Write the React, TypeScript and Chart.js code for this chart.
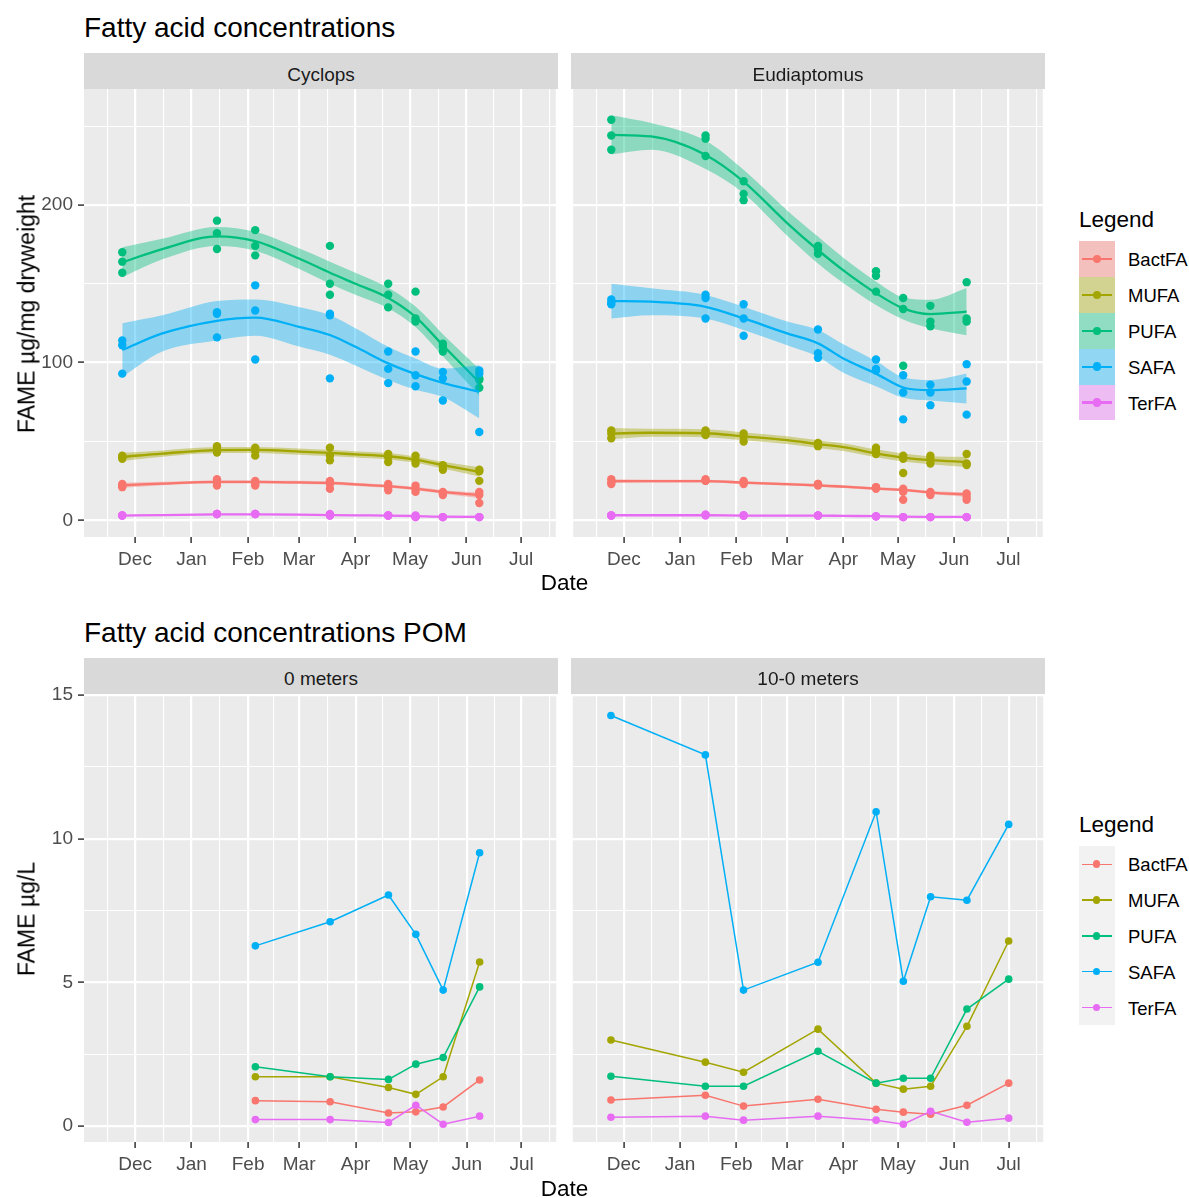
import React, { useEffect, useRef } from 'react';
import { Chart, registerables } from 'chart.js';

Chart.register(...registerables);

const FONT = '"Liberation Sans", Arial, Helvetica, sans-serif';

// Fatty acid groups and their colours
const acidNames = ['BactFA', 'MUFA', 'PUFA', 'SAFA', 'TerFA'];
const acidColors = ['#F8766D', '#A3A500', '#00BF7D', '#00B0F6', '#E76BF3'];

// Date axis: month breaks, their labels and the visible window
const dayZero = '2018-12-01';
const monthStarts = ['2018-11-01', '2018-12-01', '2019-01-01', '2019-02-01', '2019-03-01', '2019-04-01', '2019-05-01', '2019-06-01', '2019-07-01', '2019-08-01'];
const monthNames = ['Nov', 'Dec', 'Jan', 'Feb', 'Mar', 'Apr', 'May', 'Jun', 'Jul', 'Aug'];
const xAxisStart = '2018-11-03';
const xAxisEnd = '2019-07-20';

// Value axes
const zooYTicks = [0, 100, 200];
const zooYRange = [-10.6, 273.5];
const pomYTicks = [0, 5, 10, 15];
const pomYRange = [-0.56, 15.04];

// Zooplankton sampling dates, three replicates per date
const sampleDates = ['2018-11-24', '2019-01-15', '2019-02-05', '2019-03-18', '2019-04-19', '2019-05-04', '2019-05-19', '2019-06-08'];

const cyclopsBactFA = [[23, 22, 21], [26, 24, 22], [25, 23, 22], [25, 23, 20], [23, 21, 19], [22, 20, 18], [18, 17, 16], [18, 16, 11]];
const cyclopsMUFA = [[41, 40, 39], [47, 45, 43], [46, 44, 41], [46, 41, 38], [42, 40, 37], [41, 38, 36], [35, 34, 32], [32, 31, 25]];
const cyclopsPUFA = [[170, 164, 157], [190, 182, 172], [184, 174, 168], [174, 150, 143], [150, 143, 135], [145, 128, 126], [112, 110, 107], [90, 89, 84]];
const cyclopsSAFA = [[114, 111, 93], [132, 131, 116], [149, 133, 102], [131, 130, 90], [107, 96, 87], [107, 92, 85], [94, 90, 76], [95, 93, 56]];
const cyclopsTerFA = [[3, 3, 3], [4, 4, 4], [4, 4, 4], [4, 3, 3], [3, 3, 3], [3, 2, 2], [2, 2, 2], [2, 2, 2]];

const eudiaptomusBactFA = [[26, 24, 23], [26, 25, 25], [25, 24, 23], [23, 23, 22], [21, 21, 20], [20, 18, 13], [18, 17, 16], [17, 15, 13]];
const eudiaptomusMUFA = [[57, 55, 52], [57, 56, 54], [55, 53, 50], [49, 48, 47], [46, 44, 42], [41, 39, 30], [41, 39, 36], [42, 36, 35]];
const eudiaptomusPUFA = [[254, 244, 235], [244, 242, 231], [215, 207, 203], [174, 172, 169], [158, 155, 145], [141, 134, 98], [136, 126, 123], [151, 128, 126]];
const eudiaptomusSAFA = [[140, 138, 137], [143, 141, 128], [137, 128, 117], [121, 106, 103], [102, 96, 95], [92, 81, 64], [86, 81, 73], [99, 88, 67]];
const eudiaptomusTerFA = [[3, 3, 3], [3.5, 3.5, 3], [3, 3, 3], [3, 3, 3], [2.5, 2.5, 2.5], [2, 2, 2], [2, 2, 2], [2, 2, 2]];

// Loess trend and confidence half-width, evaluated on these dates
const fitDates = ['2018-11-24', '2018-12-16', '2019-01-15', '2019-02-05', '2019-03-01', '2019-03-18', '2019-04-01', '2019-04-19', '2019-05-04', '2019-05-19', '2019-06-08'];

const cyclopsFitBactFA = [22.2, 23.3, 24.3, 24.3, 24.0, 23.7, 22.8, 21.6, 20.1, 18.0, 15.9];
const cyclopsBandBactFA = [1.6, 1.1, 1.0, 1.0, 1.0, 1.0, 1.0, 1.0, 1.0, 1.1, 1.8];
const cyclopsFitMUFA = [40.2, 42.3, 44.5, 44.6, 43.6, 42.7, 41.8, 40.6, 38.5, 35.0, 30.7];
const cyclopsBandMUFA = [2.6, 2.0, 1.9, 1.9, 2.0, 2.0, 2.0, 2.0, 2.0, 2.1, 3.0];
const cyclopsFitPUFA = [163.6, 172.0, 180.0, 177.0, 166.0, 157.0, 150.0, 141.0, 129.0, 111.0, 87.5];
const cyclopsBandPUFA = [9.5, 6.5, 6.0, 6.0, 6.5, 7.0, 7.0, 6.5, 6.5, 7.0, 8.5];
const cyclopsFitSAFA = [108.0, 118.5, 126.5, 128.5, 122.7, 117.5, 110.0, 99.5, 92.7, 87.2, 81.5];
const cyclopsBandSAFA = [17.0, 11.5, 12.5, 11.5, 12.5, 12.5, 11.8, 10.5, 9.9, 9.0, 16.8];
const cyclopsFitTerFA = [3.0, 3.3, 3.7, 3.8, 3.6, 3.3, 3.1, 3.0, 2.7, 2.3, 2.2];
const cyclopsBandTerFA = [0.5, 0.4, 0.4, 0.4, 0.4, 0.4, 0.4, 0.4, 0.4, 0.4, 0.6];

const eudiaptomusFitBactFA = [24.8, 24.8, 24.8, 23.9, 22.9, 22.2, 21.3, 20.1, 19.3, 17.6, 16.3];
const eudiaptomusBandBactFA = [1.2, 0.9, 0.9, 0.9, 0.9, 0.9, 0.9, 0.9, 0.9, 0.9, 1.3];
const eudiaptomusFitMUFA = [55.0, 55.5, 55.2, 53.2, 50.8, 48.3, 46.4, 42.5, 39.8, 38.1, 37.0];
const eudiaptomusBandMUFA = [3.5, 2.5, 2.5, 2.5, 2.5, 2.5, 2.5, 2.5, 2.5, 2.5, 3.2];
const eudiaptomusFitPUFA = [244.4, 243.4, 231.7, 214.8, 188.5, 171.4, 158.5, 144.0, 134.4, 130.8, 132.3];
const eudiaptomusBandPUFA = [12.5, 8.5, 9.0, 7.5, 8.0, 8.5, 8.0, 7.5, 7.0, 9.0, 15.0];
const eudiaptomusFitSAFA = [139.0, 138.6, 135.4, 128.0, 118.5, 112.2, 102.6, 93.0, 84.2, 82.5, 83.6];
const eudiaptomusBandSAFA = [11.0, 8.5, 7.5, 7.4, 7.5, 8.5, 9.0, 8.0, 6.5, 6.5, 9.5];
const eudiaptomusFitTerFA = [3.2, 3.2, 3.2, 3.0, 3.0, 3.0, 2.8, 2.6, 2.3, 2.2, 2.1];
const eudiaptomusBandTerFA = [0.4, 0.4, 0.4, 0.4, 0.4, 0.4, 0.4, 0.4, 0.4, 0.4, 0.5];

// Particulate organic matter (µg/L)
const pomDatesSurface = ['2019-02-05', '2019-03-18', '2019-04-19', '2019-05-04', '2019-05-19', '2019-06-08'];
const surfaceBactFA = [0.88, 0.84, 0.45, 0.49, 0.66, 1.6];
const surfaceMUFA = [1.71, 1.71, 1.34, 1.1, 1.71, 5.71];
const surfacePUFA = [2.06, 1.71, 1.62, 2.15, 2.38, 4.84];
const surfaceSAFA = [6.27, 7.11, 8.04, 6.67, 4.73, 9.51];
const surfaceTerFA = [0.22, 0.22, 0.12, 0.72, 0.06, 0.34];

const pomDatesIntegrated = ['2018-11-24', '2019-01-15', '2019-02-05', '2019-03-18', '2019-04-19', '2019-05-04', '2019-05-19', '2019-06-08', '2019-07-01'];
const integratedBactFA = [0.9, 1.07, 0.69, 0.93, 0.58, 0.48, 0.41, 0.72, 1.49];
const integratedMUFA = [2.99, 2.22, 1.87, 3.37, 1.49, 1.28, 1.38, 3.47, 6.44];
const integratedPUFA = [1.73, 1.38, 1.38, 2.6, 1.49, 1.66, 1.66, 4.07, 5.11];
const integratedSAFA = [14.29, 12.92, 4.73, 5.7, 10.94, 5.04, 7.98, 7.86, 10.5];
const integratedTerFA = [0.3, 0.34, 0.2, 0.34, 0.2, 0.06, 0.51, 0.13, 0.27];

// ---------------------------------------------------------------------------

const dayOf = (s: string) =>
  Math.round((Date.parse(s + 'T00:00:00Z') - Date.parse(dayZero + 'T00:00:00Z')) / 86400000);

const X_MIN = dayOf(xAxisStart);
const X_MAX = dayOf(xAxisEnd);

function rgba(hex: string, a: number) {
  const n = parseInt(hex.slice(1), 16);
  return `rgba(${(n >> 16) & 255},${(n >> 8) & 255},${n & 255},${a})`;
}

function buildDateTicks() {
  const days = monthStarts.map(dayOf);
  const ticks: any[] = [];
  days.forEach((d, i) => {
    ticks.push({ value: d, major: true, text: monthNames[i] });
    if (i < days.length - 1) ticks.push({ value: (d + days[i + 1]) / 2, major: false, text: '' });
  });
  return ticks.filter((t) => t.value >= X_MIN && t.value <= X_MAX);
}

function buildValueTicks(majors: number[], range: number[]) {
  const step = majors[1] - majors[0];
  const ticks: any[] = majors.map((m) => ({ value: m, major: true, text: String(m) }));
  [...majors, majors[majors.length - 1] + step].forEach((m) =>
    ticks.push({ value: m - step / 2, major: false, text: '' })
  );
  return ticks.filter((t) => t.value >= range[0] && t.value <= range[1]).sort((a, b) => a.value - b.value);
}

const panelBackground = {
  id: 'panelBackground',
  beforeDraw(chart: any) {
    const { ctx, chartArea: a } = chart;
    ctx.save();
    ctx.fillStyle = '#EBEBEB';
    ctx.fillRect(a.left, a.top, a.right - a.left, a.bottom - a.top);
    ctx.restore();
  },
};

const gridWidth = (c: any) => (c.tick && c.tick.major ? 2.2 : 1.1);
const tickMarkColor = (c: any) => (c.tick && c.tick.major ? '#333333' : 'rgba(0,0,0,0)');

function panelOptions(yTicks: number[], yRange: number[], showY: boolean) {
  const xt = buildDateTicks();
  const yt = buildValueTicks(yTicks, yRange);
  const tickFont = { family: FONT, size: 19 };
  return {
    responsive: false,
    animation: false,
    events: [],
    layout: { padding: { top: 20, right: 2, left: showY ? 0 : 2, bottom: 0 } },
    plugins: { legend: { display: false }, tooltip: { enabled: false } },
    scales: {
      x: {
        type: 'linear',
        min: X_MIN,
        max: X_MAX,
        afterBuildTicks: (s: any) => {
          s.ticks = xt.map((t) => ({ ...t }));
        },
        afterFit: (s: any) => {
          s.height = 50;
        },
        ticks: {
          autoSkip: false,
          maxRotation: 0,
          minRotation: 0,
          padding: 5,
          color: '#4D4D4D',
          font: tickFont,
          callback: (_v: any, i: number, ticks: any[]) => (ticks[i].major ? ticks[i].text : ''),
        },
        grid: {
          color: '#FFFFFF',
          lineWidth: gridWidth,
          drawTicks: true,
          tickLength: 6,
          tickWidth: 1.5,
          tickColor: tickMarkColor,
        },
        border: { display: false },
      },
      y: {
        type: 'linear',
        min: yRange[0],
        max: yRange[1],
        afterBuildTicks: (s: any) => {
          s.ticks = yt.map((t) => ({ ...t }));
        },
        afterFit: (s: any) => {
          s.width = showY ? 84 : 0;
        },
        ticks: {
          display: showY,
          autoSkip: false,
          padding: 5,
          color: '#4D4D4D',
          font: tickFont,
          callback: (_v: any, i: number, ticks: any[]) => (ticks[i].major ? ticks[i].text : ''),
        },
        grid: {
          color: '#FFFFFF',
          lineWidth: gridWidth,
          drawTicks: showY,
          tickLength: 6,
          tickWidth: 1.5,
          tickColor: tickMarkColor,
        },
        border: { display: false },
      },
    },
  };
}

// Replicate points, then per group a confidence ribbon and the trend line
function smoothDatasets(reps: number[][][], fits: number[][], bands: number[][]) {
  const sx = sampleDates.map(dayOf);
  const fx = fitDates.map(dayOf);
  const list: any[] = [];
  reps.forEach((r, k) => {
    const c = acidColors[k];
    const pts: any[] = [];
    r.forEach((vals, i) => vals.forEach((v) => pts.push({ x: sx[i], y: v })));
    list.push({
      label: acidNames[k],
      data: pts,
      showLine: false,
      borderColor: c,
      pointRadius: 4.2,
      pointHoverRadius: 4.2,
      pointBackgroundColor: c,
      pointBorderColor: c,
      pointBorderWidth: 0,
    });
  });
  fits.forEach((f, k) => {
    const c = acidColors[k];
    const common = { pointRadius: 0, pointHoverRadius: 0, cubicInterpolationMode: 'monotone' };
    list.push({ ...common, data: f.map((v, i) => ({ x: fx[i], y: v - bands[k][i] })), borderColor: 'rgba(0,0,0,0)', borderWidth: 0, fill: false });
    list.push({ ...common, data: f.map((v, i) => ({ x: fx[i], y: v + bands[k][i] })), borderColor: 'rgba(0,0,0,0)', borderWidth: 0, fill: '-1', backgroundColor: rgba(c, 0.4) });
    list.push({ ...common, label: acidNames[k], data: f.map((v, i) => ({ x: fx[i], y: v })), borderColor: c, borderWidth: 2.3, fill: false });
  });
  const n = list.length;
  list.forEach((d, i) => (d.order = n - i));
  return list;
}

// Connected lines for every group, then the points on top
function lineDatasets(dates: string[], series: number[][]) {
  const x = dates.map(dayOf);
  const list: any[] = [];
  series.forEach((vals, k) => {
    const c = acidColors[k];
    list.push({ label: acidNames[k], data: vals.map((v, i) => ({ x: x[i], y: v })), borderColor: c, borderWidth: 1.5, pointRadius: 0, tension: 0, fill: false });
  });
  series.forEach((vals, k) => {
    const c = acidColors[k];
    list.push({ label: acidNames[k], data: vals.map((v, i) => ({ x: x[i], y: v })), showLine: false, borderColor: c, pointRadius: 3.8, pointHoverRadius: 3.8, pointBackgroundColor: c, pointBorderColor: c, pointBorderWidth: 0 });
  });
  const n = list.length;
  list.forEach((d, i) => (d.order = n - i));
  return list;
}

function Panel(props: { left: number; top: number; width: number; height: number; build: () => any }) {
  const ref = useRef<HTMLCanvasElement>(null);
  useEffect(() => {
    const chart = new Chart(ref.current as HTMLCanvasElement, props.build());
    return () => chart.destroy();
  }, []);
  return (
    <canvas
      ref={ref}
      width={props.width}
      height={props.height}
      style={{ position: 'absolute', left: props.left, top: props.top, width: props.width, height: props.height, display: 'block' }}
    />
  );
}

function Label(props: { x: number; y: number; size: number; color?: string; anchor?: string; rotate?: boolean; children: any }) {
  const tx = props.anchor === 'middle' ? '-50%' : props.anchor === 'end' ? '-100%' : '0';
  return (
    <div
      style={{
        position: 'absolute',
        left: props.x,
        top: props.y,
        transform: props.rotate ? 'translate(-50%,-50%) rotate(-90deg)' : `translate(${tx},-50%)`,
        fontSize: props.size,
        lineHeight: 1,
        color: props.color || '#000000',
        whiteSpace: 'nowrap',
        fontFamily: FONT,
      }}
    >
      {props.children}
    </div>
  );
}

function Strip(props: { left: number; top: number; width: number; text: string }) {
  return (
    <>
      <div style={{ position: 'absolute', left: props.left, top: props.top, width: props.width, height: 36, background: '#D9D9D9' }} />
      <Label x={props.left + props.width / 2} y={props.top + 20.4} size={19} color="#1A1A1A" anchor="middle">
        {props.text}
      </Label>
    </>
  );
}

function Legend(props: { titleY: number; keyTop: number; ribbon: boolean; lineW: number; pointR: number }) {
  const keyH = 35.8;
  return (
    <>
      <Label x={1079} y={props.titleY} size={22.5}>
        Legend
      </Label>
      {acidNames.map((name, i) => {
        const c = acidColors[i];
        const top = props.keyTop + i * keyH;
        return (
          <React.Fragment key={name}>
            <div style={{ position: 'absolute', left: 1078.5, top, width: 36.5, height: keyH, background: '#F2F2F2' }}>
              {props.ribbon && <div style={{ position: 'absolute', inset: 0, background: rgba(c, 0.4) }} />}
              <div style={{ position: 'absolute', left: 3.2, width: 30, top: keyH / 2 - props.lineW / 2, height: props.lineW, background: c }} />
              <div
                style={{
                  position: 'absolute',
                  left: 18.2 - props.pointR,
                  top: keyH / 2 - props.pointR,
                  width: props.pointR * 2,
                  height: props.pointR * 2,
                  borderRadius: '50%',
                  background: c,
                }}
              />
            </div>
            <Label x={1128} y={top + keyH / 2 + 1} size={18.5}>
              {name}
            </Label>
          </React.Fragment>
        );
      })}
    </>
  );
}

export default function App() {
  const cyclopsSeries = [cyclopsBactFA, cyclopsMUFA, cyclopsPUFA, cyclopsSAFA, cyclopsTerFA];
  const cyclopsFits = [cyclopsFitBactFA, cyclopsFitMUFA, cyclopsFitPUFA, cyclopsFitSAFA, cyclopsFitTerFA];
  const cyclopsBands = [cyclopsBandBactFA, cyclopsBandMUFA, cyclopsBandPUFA, cyclopsBandSAFA, cyclopsBandTerFA];
  const eudSeries = [eudiaptomusBactFA, eudiaptomusMUFA, eudiaptomusPUFA, eudiaptomusSAFA, eudiaptomusTerFA];
  const eudFits = [eudiaptomusFitBactFA, eudiaptomusFitMUFA, eudiaptomusFitPUFA, eudiaptomusFitSAFA, eudiaptomusFitTerFA];
  const eudBands = [eudiaptomusBandBactFA, eudiaptomusBandMUFA, eudiaptomusBandPUFA, eudiaptomusBandSAFA, eudiaptomusBandTerFA];
  const surface = [surfaceBactFA, surfaceMUFA, surfacePUFA, surfaceSAFA, surfaceTerFA];
  const integrated = [integratedBactFA, integratedMUFA, integratedPUFA, integratedSAFA, integratedTerFA];

  const build = (datasets: any[], yTicks: number[], yRange: number[], showY: boolean) => () => ({
    type: 'line',
    data: { datasets },
    options: panelOptions(yTicks, yRange, showY),
    plugins: [panelBackground],
  });

  return (
    <div style={{ position: 'absolute', left: 0, top: 0, width: 1189, height: 1198, background: '#FFFFFF', overflow: 'hidden', fontFamily: FONT }}>
      <Panel left={0} top={69} width={560} height={518} build={build(smoothDatasets(cyclopsSeries, cyclopsFits, cyclopsBands), zooYTicks, zooYRange, true)} />
      <Panel left={569} top={69} width={478} height={518} build={build(smoothDatasets(eudSeries, eudFits, eudBands), zooYTicks, zooYRange, false)} />
      <Panel left={0} top={674} width={560} height={518} build={build(lineDatasets(pomDatesSurface, surface), pomYTicks, pomYRange, true)} />
      <Panel left={569} top={674} width={478} height={518} build={build(lineDatasets(pomDatesIntegrated, integrated), pomYTicks, pomYRange, false)} />

      <Label x={84} y={28} size={28}>
        Fatty acid concentrations
      </Label>
      <Strip left={84} top={53.3} width={474} text="Cyclops" />
      <Strip left={571} top={53.3} width={474} text="Eudiaptomus" />
      <Label x={564.5} y={583} size={22.5} anchor="middle">
        Date
      </Label>
      <Label x={26.5} y={314} size={23} rotate>
        FAME µg/mg dryweight
      </Label>
      <Legend titleY={220} keyTop={241.4} ribbon lineW={2.3} pointR={4.2} />

      <Label x={84} y={633} size={28}>
        Fatty acid concentrations POM
      </Label>
      <Strip left={84} top={658} width={474} text="0 meters" />
      <Strip left={571} top={658} width={474} text="10-0 meters" />
      <Label x={564.5} y={1189} size={22.5} anchor="middle">
        Date
      </Label>
      <Label x={26.5} y={919} size={23} rotate>
        FAME µg/L
      </Label>
      <Legend titleY={825} keyTop={846.4} ribbon={false} lineW={1.5} pointR={3.8} />
    </div>
  );
}
